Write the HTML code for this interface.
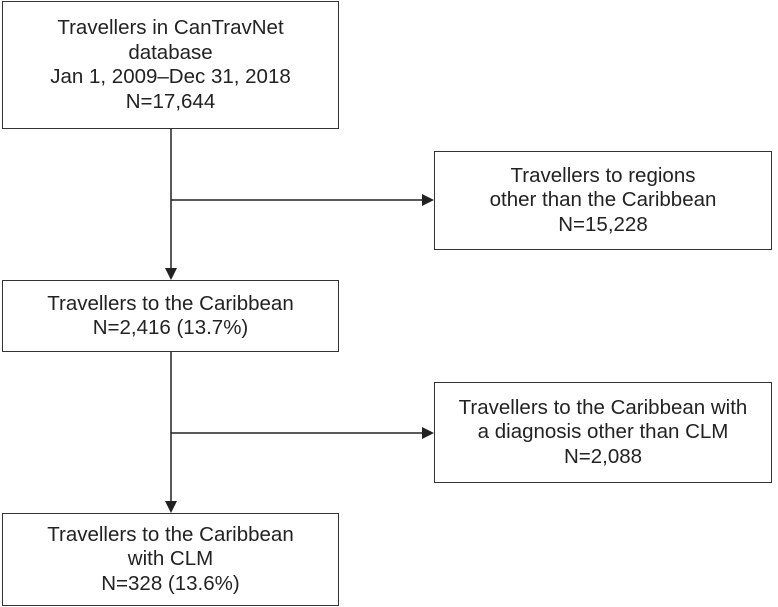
<!DOCTYPE html>
<html><head><style>
body{margin:0;width:778px;height:607px;background:#fff;position:relative;font-family:"Liberation Sans",sans-serif;color:#222;}
.b{position:absolute;border:1.5px solid #333;box-sizing:border-box;display:flex;align-items:center;justify-content:center;text-align:center;font-size:20.5px;line-height:24.5px;}
svg{position:absolute;left:0;top:0}
</style></head><body>
<svg width="778" height="607">
<g stroke="#222" stroke-width="1.5" fill="none">
<line x1="171" y1="128" x2="171" y2="270"/>
<line x1="171" y1="200" x2="424" y2="200"/>
<line x1="171" y1="351" x2="171" y2="503"/>
<line x1="171" y1="433" x2="424" y2="433"/>
</g>
<g fill="#222">
<polygon points="165,268 177,268 171,280"/>
<polygon points="422,194 422,206 434,200"/>
<polygon points="165,501 177,501 171,513"/>
<polygon points="422,427 422,439 434,433"/>
</g>
</svg>
<div class="b" style="left:2px;top:1px;width:337px;height:128px">Travellers in CanTravNet<br>database<br>Jan 1, 2009–Dec 31, 2018<br>N=17,644</div>
<div class="b" style="left:434px;top:151px;width:338px;height:99px">Travellers to regions<br>other than the Caribbean<br>N=15,228</div>
<div class="b" style="left:2px;top:280px;width:337px;height:72px">Travellers to the Caribbean<br>N=2,416 (13.7%)</div>
<div class="b" style="left:434px;top:382px;width:338px;height:101px">Travellers to the Caribbean with<br>a diagnosis other than CLM<br>N=2,088</div>
<div class="b" style="left:2px;top:513px;width:337px;height:93px">Travellers to the Caribbean<br>with CLM<br>N=328 (13.6%)</div>
</body></html>
